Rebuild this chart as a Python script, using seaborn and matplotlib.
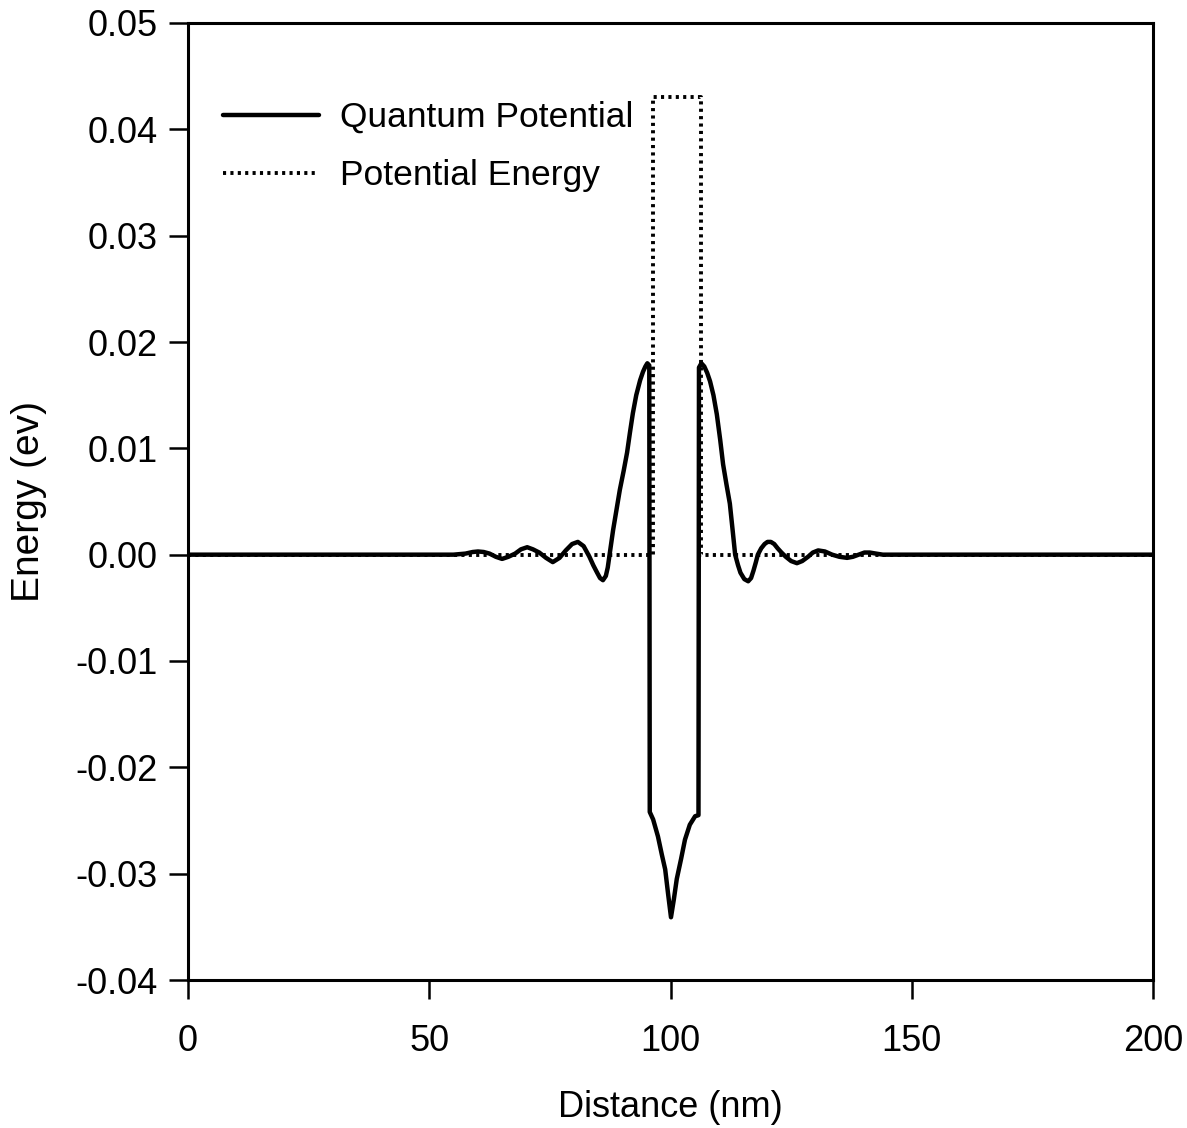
import matplotlib
matplotlib.use("Agg")
import matplotlib.pyplot as plt
import seaborn as sns
import numpy as np

# Quantum potential curve
qp_x = [0, 50, 55, 57.5, 59.0, 60.1, 61.3, 62.5, 63.8, 65.1, 66.4, 67.8, 69.0, 70.3, 71.5, 72.8, 74.2,
        75.6, 77.0, 78.3, 79.6, 80.8, 82.0, 83.2, 84.0, 84.8, 85.4, 86.0, 86.6, 87.0, 87.5, 88.1,
        88.8, 89.5, 90.3, 91.0, 91.6, 92.2, 92.9, 93.7, 94.3, 94.8, 95.2, 95.6,
        95.7, 96.4, 97.4, 98.2, 98.9, 99.5, 100.1, 100.7, 101.3, 102.2, 103.0, 104.0, 105.1, 105.8,
        105.9, 106.4, 107.0, 107.6, 108.2, 108.9, 109.6, 110.3, 110.9, 111.6, 112.3, 112.9, 113.4,
        114.0, 114.5, 115.3, 116.1, 116.7, 117.2, 117.7, 118.1, 118.8, 119.5, 120.1, 120.8, 121.5,
        122.2, 123.0, 123.9, 125.0, 126.2, 127.3, 128.5, 129.5, 130.6, 132.0, 133.5, 135.0, 136.6,
        137.8, 139.0, 140.2, 141.3, 142.6, 144.0, 200]
qp_y = [0, 0, 0.0, 0.0001, 0.00025, 0.0003, 0.00025, 0.0001, -0.0002, -0.0004, -0.0002, 0.0001, 0.0005,
        0.0007, 0.0005, 0.0002, -0.0003, -0.0007, -0.0003, 0.0004, 0.0010, 0.0012, 0.0008, -0.0002,
        -0.0010, -0.0017, -0.0022, -0.0024, -0.0020, -0.0012, 0.0004, 0.0023,
        0.0042, 0.0061, 0.0079, 0.0096, 0.0115, 0.0133, 0.0150, 0.0164, 0.0172, 0.0177, 0.0180, 0.0178,
        -0.0242, -0.0249, -0.0265, -0.0282, -0.0296, -0.0319, -0.0341, -0.0324, -0.0305, -0.0286,
        -0.0268, -0.0254, -0.0246, -0.0245,
        0.0176, 0.0180, 0.0177, 0.0171, 0.0163, 0.0150, 0.0132, 0.0108, 0.0085, 0.0066, 0.0048,
        0.0022, 0.0000, -0.0010, -0.0017, -0.0023, -0.0025, -0.0022, -0.0015, -0.0007, 0.0000,
        0.0006, 0.0010, 0.0012, 0.0012, 0.0010, 0.0006, 0.0002, -0.0002, -0.0006, -0.0008,
        -0.0006, -0.0002, 0.0002, 0.0004, 0.0003, 0.0000, -0.0002, -0.0003, -0.0002, 0.0000,
        0.0002, 0.0002, 0.0001, 0.0000, 0]

# Potential energy barrier
pe_x = [0, 96.4, 96.4, 106.3, 106.3, 200]
pe_y = [0, 0, 0.043, 0.043, 0, 0]

xticks = [0, 50, 100, 150, 200]
yticks = [-0.04, -0.03, -0.02, -0.01, 0.00, 0.01, 0.02, 0.03, 0.04, 0.05]

sns.set_style("white")
plt.rcParams['font.family'] = ['Liberation Sans', 'DejaVu Sans']
plt.rcParams['axes.unicode_minus'] = False
plt.rcParams['text.color'] = 'black'
plt.rcParams['axes.labelcolor'] = 'black'

fig = plt.figure(figsize=(11.87, 11.28), dpi=100)
ax = fig.add_axes([188/1187, 1 - 980/1128, (1153-188)/1187, (980-23)/1128])

sns.lineplot(x=pe_x, y=pe_y, estimator=None, sort=False, ax=ax, color='black',
             linewidth=2.8, linestyle=(0, (0.8, 1.1)), label='Potential Energy')
sns.lineplot(x=qp_x, y=qp_y, estimator=None, sort=False, ax=ax, color='black',
             linewidth=3.2, label='Quantum Potential')

ax.set_xlim(0, 200)
ax.set_ylim(-0.04, 0.05)
ax.set_xticks(xticks)
ax.set_yticks(yticks)
ax.set_xticklabels([str(t) for t in xticks])
ax.set_yticklabels(["%.2f" % t for t in yticks])
ax.tick_params(axis='both', direction='out', length=14, width=1.8, labelsize=26,
               colors='black', bottom=True, left=True)
ax.tick_params(axis='x', pad=18)
ax.tick_params(axis='y', pad=8)
for s in ax.spines.values():
    s.set_color('black')
    s.set_linewidth(2.2)

ax.set_xlabel('Distance (nm)', fontsize=26, labelpad=22, color='black')
ax.set_ylabel('Energy (ev)', fontsize=28, labelpad=20, color='black')

h, l = ax.get_legend_handles_labels()
order = [1, 0]
leg = ax.legend([h[i] for i in order], [l[i] for i in order], loc='upper left',
                bbox_to_anchor=(0.018, 0.937), frameon=False, fontsize=25.5,
                handlelength=2.7, handletextpad=0.6, labelspacing=0.72, borderpad=0)
for t in leg.get_texts():
    t.set_color('black')

fig.savefig('out.png', dpi=100, facecolor='white')
